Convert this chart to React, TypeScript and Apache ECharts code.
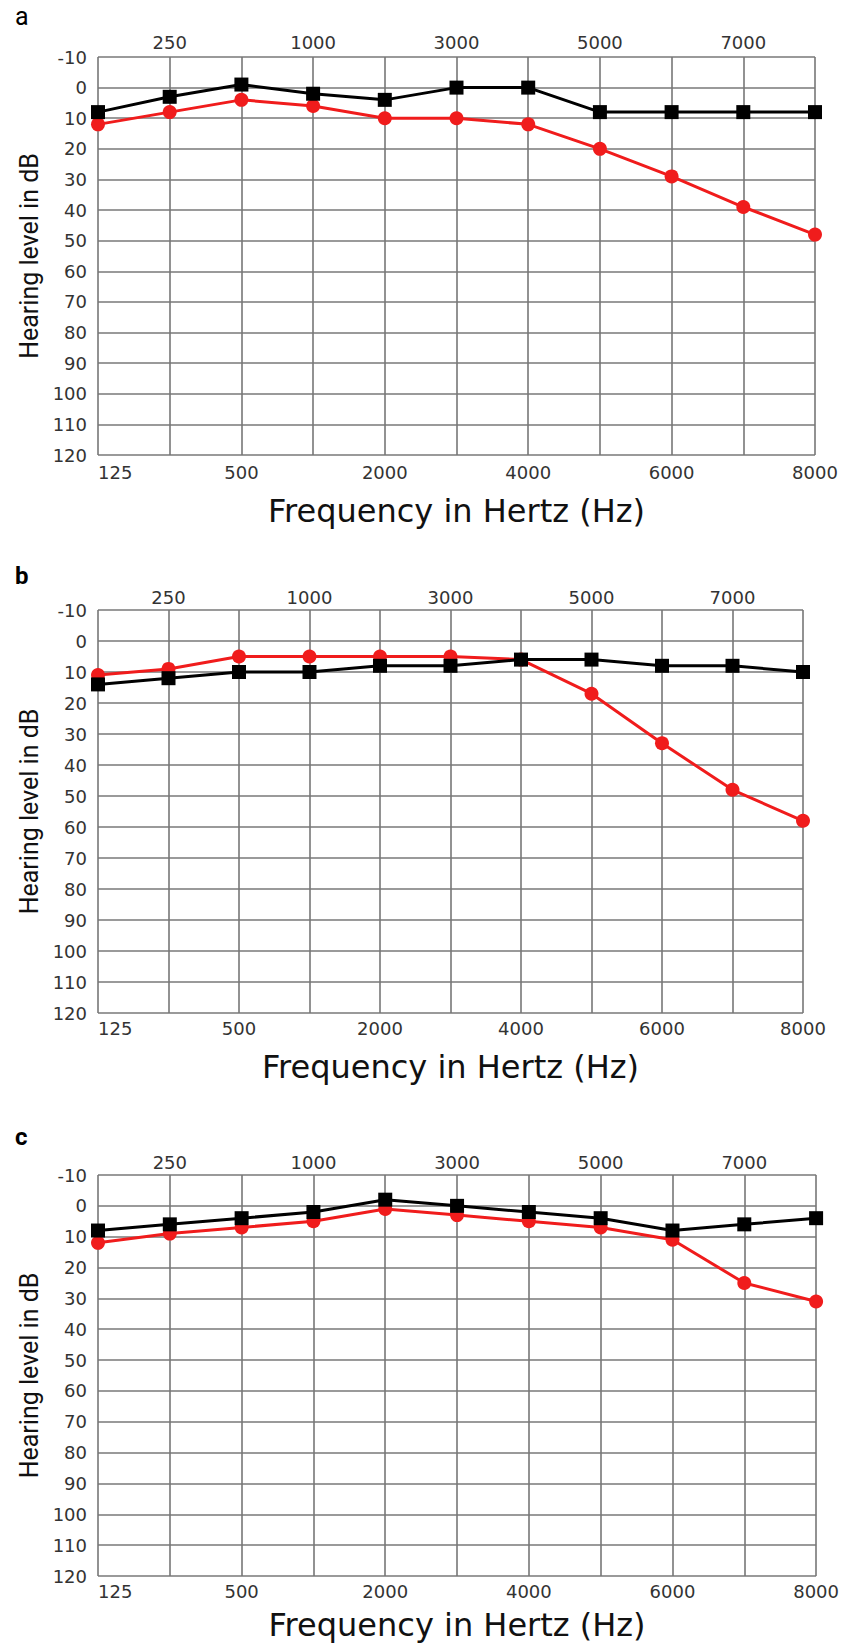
import React, { useEffect, useRef } from "react";
import * as echarts from "echarts";

// Frequencies (Hz) of the audiogram columns
const frequencies = ["125", "250", "500", "1000", "2000", "3000", "4000", "5000", "6000", "7000", "8000"];

// Hearing level axis (dB), drawn inverted
const levelMin = -10;
const levelMax = 120;
const levelStep = 10;

// Panel a
const panelABlack = [8, 3, -1, 2, 4, 0, 0, 8, 8, 8, 8];
const panelARed = [12, 8, 4, 6, 10, 10, 12, 20, 29, 39, 48];
// Panel b
const panelBBlack = [14, 12, 10, 10, 8, 8, 6, 6, 8, 8, 10];
const panelBRed = [11, 9, 5, 5, 5, 5, 6, 17, 33, 48, 58];
// Panel c
const panelCBlack = [8, 6, 4, 2, -2, 0, 2, 4, 8, 6, 4];
const panelCRed = [12, 9, 7, 5, 1, 3, 5, 7, 11, 25, 31];

const panelLetters = ["a", "b", "c"];
const xTitle = "Frequency in Hertz (Hz)";
const yTitle = "Hearing level in dB";

const RED = "#f01c1c";
const BLACK = "#000000";
const TICK_FONT = "DejaVu Sans, sans-serif";
const SANS = "Roboto, Liberation Sans, Arial, sans-serif";

export default function App() {
  const ref = useRef<HTMLDivElement>(null);

  useEffect(() => {
    if (!ref.current) return;
    const chart = echarts.init(ref.current, undefined, { renderer: "svg" });

    const panels = [
      { black: panelABlack, red: panelARed, grid: { left: 98, top: 57, width: 717, height: 398 }, nameGap: 40, topMargin: 6, botMargin: 8 },
      { black: panelBBlack, red: panelBRed, grid: { left: 98, top: 610, width: 705, height: 403 }, nameGap: 38, topMargin: 4, botMargin: 6 },
      { black: panelCBlack, red: panelCRed, grid: { left: 98, top: 1175, width: 720, height: 401 }, nameGap: 33, topMargin: 4, botMargin: 6 },
    ];

    const grids: any[] = [];
    const xAxes: any[] = [];
    const yAxes: any[] = [];
    const series: any[] = [];

    const tickLabel = { color: "#333333", fontFamily: TICK_FONT, fontSize: 18 };

    panels.forEach((p, i) => {
      grids.push({ ...p.grid, containLabel: false });
      // bottom axis
      xAxes.push({
        type: "category",
        gridIndex: i,
        data: frequencies,
        boundaryGap: false,
        position: "bottom",
        axisLine: { show: false },
        axisTick: { show: false },
        axisLabel: {
          ...tickLabel,
          interval: (idx: number) => idx % 2 === 0,
          margin: p.botMargin,
          alignMinLabel: "left",
        },
        splitLine: { show: true, interval: 0, lineStyle: { color: "#777777", width: 1.6 } },
        name: xTitle,
        nameLocation: "middle",
        nameGap: p.nameGap,
        nameTextStyle: { fontFamily: TICK_FONT, fontSize: 32, color: "#111111" },
      });
      // top axis
      xAxes.push({
        type: "category",
        gridIndex: i,
        data: frequencies,
        boundaryGap: false,
        position: "top",
        axisLine: { show: false },
        axisTick: { show: false },
        axisLabel: {
          ...tickLabel,
          interval: (idx: number) => idx % 2 === 1,
          margin: p.topMargin,
        },
        splitLine: { show: false },
      });
      yAxes.push({
        type: "value",
        gridIndex: i,
        inverse: true,
        min: levelMin,
        max: levelMax,
        interval: levelStep,
        axisLine: { show: false },
        axisTick: { show: false },
        axisLabel: {
          ...tickLabel,
          margin: 11,
          padding: [9, 0, 0, 0],
        },
        splitLine: { show: true, lineStyle: { color: "#9a9a9a", width: 2.2 } },
        name: yTitle,
        nameLocation: "middle",
        nameGap: 56,
        nameTextStyle: { fontFamily: SANS, fontSize: 25, color: "#111111" },
      });
      series.push({
        type: "line",
        xAxisIndex: i * 2,
        yAxisIndex: i,
        data: p.red,
        symbol: "circle",
        symbolSize: 14,
        lineStyle: { color: RED, width: 3 },
        itemStyle: { color: RED },
        z: 3,
      });
      series.push({
        type: "line",
        xAxisIndex: i * 2,
        yAxisIndex: i,
        data: p.black,
        symbol: "rect",
        symbolSize: 14,
        lineStyle: { color: BLACK, width: 3 },
        itemStyle: { color: BLACK },
        z: 4,
      });
    });

    const letterPos = [
      { x: 15, y: 16, weight: "normal", size: 25 },
      { x: 15, y: 576, weight: "bold", size: 24 },
      { x: 15, y: 1137, weight: "bold", size: 24 },
    ];

    chart.setOption({
      animation: false,
      backgroundColor: "#ffffff",
      grid: grids,
      xAxis: xAxes,
      yAxis: yAxes,
      series,
      graphic: panelLetters.map((t, i) => ({
        type: "text",
        x: letterPos[i].x,
        y: letterPos[i].y,
        style: {
          text: t,
          fontFamily: SANS,
          fontSize: letterPos[i].size,
          fontWeight: letterPos[i].weight,
          fill: "#000000",
          verticalAlign: "middle",
        },
      })),
    });

    return () => chart.dispose();
  }, []);

  return (
    <div
      ref={ref}
      style={{ position: "absolute", left: 0, top: 0, width: 842, height: 1646, background: "#fff" }}
    />
  );
}
